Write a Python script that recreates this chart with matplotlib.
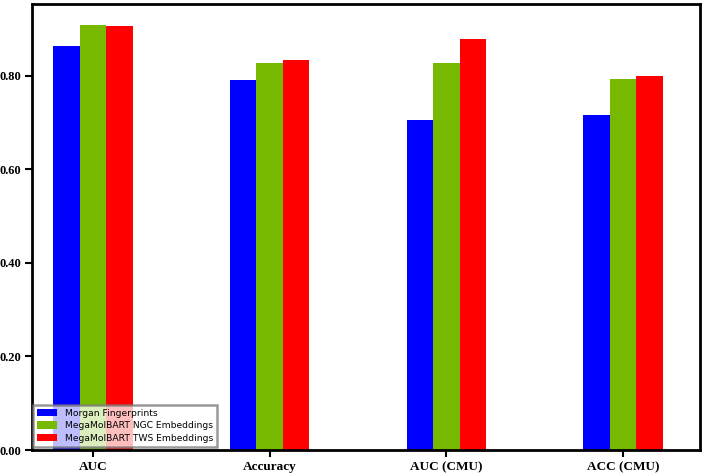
import numpy as np
import matplotlib
matplotlib.use("Agg")
import matplotlib.pyplot as plt

categories = ["AUC", "Accuracy", "AUC (CMU)", "ACC (CMU)"]
series_names = ["Morgan Fingerprints", "MegaMolBART NGC Embeddings", "MegaMolBART TWS Embeddings"]
morgan = [0.863, 0.791, 0.705, 0.716]
ngc = [0.908, 0.827, 0.827, 0.793]
tws = [0.906, 0.833, 0.878, 0.800]
colors = ["#0000FF", "#76B900", "#FF0000"]

fig = plt.figure(figsize=(7.06, 4.76), dpi=100)
ax = fig.add_axes([0.0453, 0.0546, 0.9462, 0.937])

x = np.arange(len(categories))
w = 0.15
for i, (vals, name, c) in enumerate(zip([morgan, ngc, tws], series_names, colors)):
    ax.bar(x + (i - 1) * w, vals, width=w, color=c, label=name)

ax.set_xlim(-0.345, 3.435)
ax.set_ylim(0, 0.953)
ax.set_xticks(x)
ax.set_xticklabels(categories, fontfamily="Liberation Serif", fontweight="bold", fontsize=9.5)
ax.set_yticks([0, 0.2, 0.4, 0.6, 0.8])
ax.set_yticklabels(["0.00", "0.20", "0.40", "0.60", "0.80"],
                   fontfamily="Liberation Serif", fontweight="bold", fontsize=9)
ax.tick_params(axis="both", direction="out", length=5, width=1.5, pad=3)
for s in ax.spines.values():
    s.set_linewidth(2)

leg = ax.legend(loc="lower left", fontsize=6.6, frameon=True, fancybox=False,
                borderaxespad=0.1, handlelength=2.2, handleheight=0.9, labelspacing=0.38,
                borderpad=0.45, bbox_to_anchor=(0.0, 0.005))
leg.get_frame().set_edgecolor("#777777")
leg.get_frame().set_linewidth(1.8)
leg.get_frame().set_alpha(0.75)

fig.savefig("out.png", dpi=100)
